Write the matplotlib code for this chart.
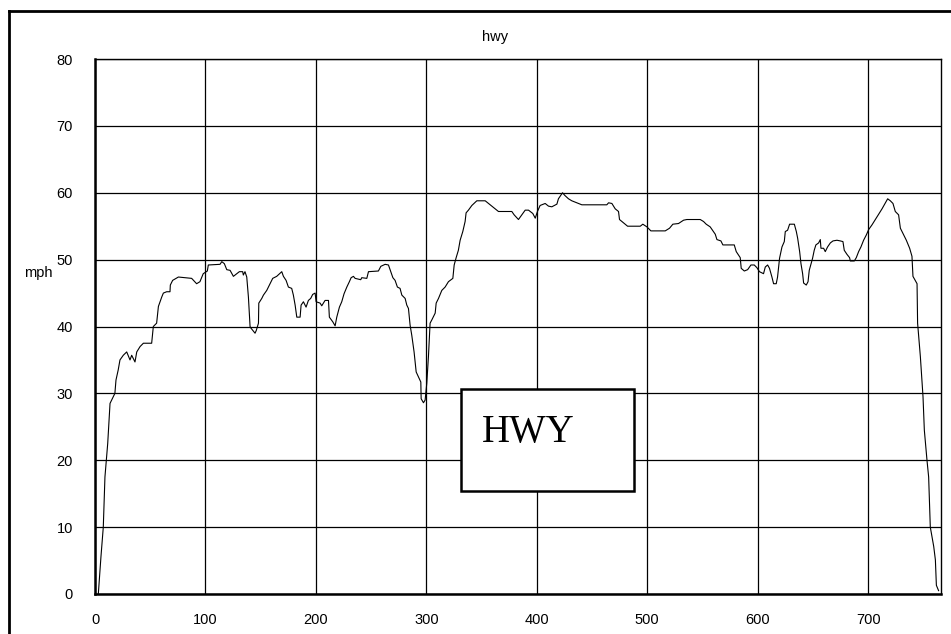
import matplotlib
matplotlib.use("Agg")
import matplotlib.pyplot as plt
from matplotlib.patches import Rectangle
from matplotlib.lines import Line2D

plt.rcParams['font.family'] = ['Liberation Sans Narrow', 'Liberation Sans', 'DejaVu Sans']

# distance (x) vs speed in mph (y)
dist = [3.0, 5.4, 7.5, 9, 11.5, 13.6, 18, 19, 21, 22.6, 25.6, 28.7, 31.7, 33.2, 36.2, 37.8,
        40.8, 43.8, 51.3, 52.8, 55.8, 57.4, 58.9, 60.4, 61.9, 64.9, 67.9, 68.2, 70.3, 75.5,
        87.5, 92, 95, 98, 101.7, 102.6, 113.2, 114.8, 117.1, 119.3, 122.3, 125.3, 128.3,
        130.7, 133.7, 134.3, 135.8, 137.4, 138.9, 140.4, 141, 144.9, 146, 148, 148.3, 151,
        152.5, 155.5, 158.5, 160.9, 164.5, 169.1, 170.6, 173, 175.1, 178.1, 179.6, 181.2,
        182.7, 185.7, 186.6, 188.7, 191.1, 193.2, 195.3, 197.1, 199.3, 200.2, 203.8, 205.3,
        206.8, 208.3, 211.4, 212.2, 215.3, 217.4, 218.9, 221.3, 223.4, 225.5, 228, 230.3,
        231.9, 234, 235.5, 240.6, 241.5, 246.1, 247.6, 256.6, 258.8, 262.7, 265.7, 267.8,
        269.7, 271.7, 273.8, 276.2, 277.8, 280.8, 282.3, 283.8, 285.3, 286.8, 288.9, 290.8,
        292.8, 295, 295.3, 297.4, 298.9, 300.4, 301.9, 303.4, 305, 308, 308.9, 311, 314,
        317, 320, 324, 325.2, 327, 329, 330.6, 333, 335.1, 336, 338.1, 341.2, 345.7, 353.3,
        356.3, 360.8, 365.3, 377.4, 379.5, 383.4, 386.5, 389.5, 392.5, 396.4, 398.6, 400.6,
        403, 407.6, 410.6, 413.6, 418.2, 419.6, 423.3, 425.4, 428.7, 431.7, 436.3, 440.8,
        463.4, 465, 468, 471, 474, 474.9, 478.5, 482.2, 493.7, 496, 499.7, 503.3, 516.3,
        520.2, 523.2, 528.3, 532.9, 535.9, 548, 551, 553.4, 557, 559.5, 561.6, 563.1, 566.7,
        568.5, 578.8, 580.6, 584.2, 585.1, 587.9, 590.9, 593.9, 596.9, 599.3, 601.6, 605.3,
        606.9, 609, 610.7, 612.9, 614.4, 616.8, 618, 619.8, 622, 624.1, 625, 627.1, 628.9,
        633.2, 635, 636.2, 638, 639.2, 640.7, 641.6, 644, 645.6, 646.7, 648, 649.7, 651.2,
        652.7, 655.2, 656.7, 657.3, 659.7, 661.2, 663.3, 665.8, 668.2, 671.8, 674.8, 677.2,
        678.4, 680.8, 683.2, 683.9, 687.5, 689.3, 691.4, 693.5, 695.9, 698.4, 700.5, 703.5,
        706.5, 709.5, 712.6, 715.6, 717.7, 720.1, 722.5, 724.6, 727.6, 729.2, 731.6, 734.6,
        737.6, 739.7, 740.6, 744.3, 744.8, 747.3, 749.7, 750.9, 753.3, 754.8, 756.3, 759.4,
        760.9, 761.8, 763.8]
mph = [0, 5.6, 10, 17.5, 22.5, 28.5, 30, 32, 33.5, 35, 35.7, 36.2, 35, 35.7, 34.7, 36.2,
       37, 37.5, 37.5, 40, 40.5, 43, 43.7, 44.4, 45, 45.2, 45.2, 46.2, 46.9, 47.4,
       47.2, 46.4, 46.7, 47.9, 48.3, 49.2, 49.3, 49.7, 49.4, 48.5, 48.4, 47.5, 47.9,
       48.2, 48.2, 47.7, 48.2, 47.4, 44.4, 40, 39.8, 39, 39.4, 40.5, 43.5, 44.2,
       44.7, 45.4, 46.4, 47.2, 47.5, 48.2, 47.5, 46.9, 45.9, 45.7, 44.7, 43.2,
       41.4, 41.4, 43.2, 43.7, 42.9, 43.9, 44.2, 44.8, 45, 43.7, 43.5, 43.1,
       43.5, 43.9, 43.9, 41.4, 40.7, 40.1, 41.4, 42.9, 43.7, 44.9, 45.9, 46.7,
       47.3, 47.5, 47.2, 47, 47.3, 47.2, 48.2, 48.3, 49, 49.3, 49.2, 48.2,
       47.3, 46.9, 45.9, 45.7, 44.7, 44.2, 43.2, 42.7, 40.2, 38.7, 36.2, 33.2,
       32.5, 31.7, 29.2, 28.6, 29, 31.5, 35.5, 40.5, 41, 42, 43.5, 44.2, 45.4,
       45.9, 46.7, 47.2, 49.2, 50.3, 51.4, 52.9, 54.2, 55.7, 57, 57.4, 58.1, 58.8, 58.8,
       58.4, 57.8, 57.2, 57.2, 56.7, 56, 56.7, 57.4, 57.4, 56.9, 56.2, 57.2,
       58.1, 58.4, 58, 57.9, 58.3, 59.1, 60, 59.6, 59.1, 58.8, 58.5, 58.2,
       58.2, 58.5, 58.4, 57.6, 57.2, 56, 55.5, 55, 55, 55.3, 54.9, 54.3, 54.3,
       54.7, 55.3, 55.4, 55.9, 56, 56, 55.7, 55.3, 54.9, 54.3, 53.8, 53, 52.8,
       52.2, 52.2, 51.2, 50.3, 48.7, 48.3, 48.5, 49.2, 49.2, 48.8, 48.2, 47.9,
       48.9, 49.2, 48.7, 47.4, 46.4, 46.4, 47.4, 50.2, 51.9, 52.7, 54.2, 54.4, 55.3,
       55.3, 54.2, 53.2, 51.2, 49.4, 47.9, 46.5, 46.2, 46.7, 48.4, 49.2, 50.2, 51.4,
       52.2, 52.5, 53, 51.7, 51.7, 51.2, 51.9, 52.5, 52.8, 52.9, 52.8, 52.7,
       51.4, 50.8, 50.3, 49.8, 49.8, 50.3, 51.2, 51.9, 52.9, 53.7, 54.5, 55.2,
       56, 56.8, 57.6, 58.5, 59.1, 58.8, 58.4, 57.2, 56.7, 54.7, 53.9, 52.9,
       51.7, 50.5, 47.5, 46.4, 40.5, 35.5, 29.5, 24.5, 20, 17.5, 10, 7.1,
       5.1, 1.3, 0.5]

x_ticks = [0, 100, 200, 300, 400, 500, 600, 700]
y_ticks = [0, 10, 20, 30, 40, 50, 60, 70, 80]

fig = plt.figure(figsize=(9.51, 6.34), dpi=100)
ax = fig.add_axes([0.0999, 0.0631, 0.8896, 0.8438])

ax.plot(dist, mph, color='black', linewidth=0.8)

ax.set_xlim(0, 766)
ax.set_ylim(0, 80)
ax.set_xticks(x_ticks)
ax.set_yticks(y_ticks)
ax.grid(True, color='black', linewidth=0.9)
ax.set_axisbelow(True)
ax.tick_params(length=0, labelsize=10.5, pad=16)
ax.tick_params(axis='x', pad=14)
for side in ['left', 'bottom']:
    ax.spines[side].set_linewidth(1.8)
for side in ['top', 'right']:
    ax.spines[side].set_linewidth(1.0)

fig.text(0.5205, 0.942, 'hwy', ha='center', va='center', fontsize=10.5)
fig.text(0.040, 0.570, 'mph', ha='center', va='center', fontsize=10.5)

# labelled box in the middle of the plot
box = Rectangle((0.4844, 0.2260), 0.1825, 0.1604, transform=fig.transFigure,
                facecolor='white', edgecolor='black', linewidth=1.8, zorder=5)
fig.patches.append(box)
fig.text(0.5068, 0.3024, 'HWY', ha='left', va='baseline', fontsize=28,
         family=['Liberation Serif', 'DejaVu Serif'], zorder=6)

# outer chart frame (only left and top visible in the crop)
fig.lines.append(Line2D([0.0095, 0.0095], [0, 0.983], transform=fig.transFigure,
                        color='black', linewidth=2.0))
fig.lines.append(Line2D([0.0095, 1.0], [0.983, 0.983], transform=fig.transFigure,
                        color='black', linewidth=2.0))

fig.savefig('out.png', dpi=100)
